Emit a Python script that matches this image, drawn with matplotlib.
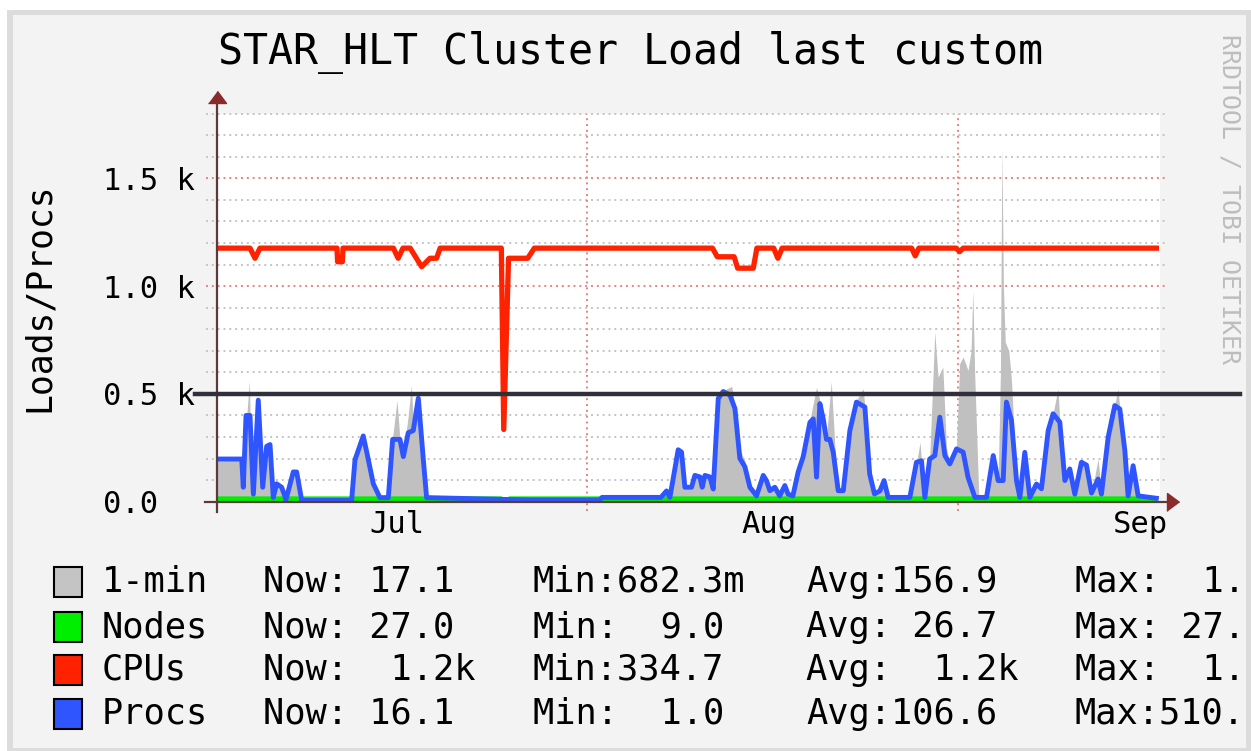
import matplotlib.pyplot as plt
from matplotlib.patches import Rectangle
from matplotlib.transforms import blended_transform_factory

plt.rcParams['font.family'] = 'DejaVu Sans Mono'

W, H = 1251, 751

# x axis is days counted from the left edge of the graph (mid June)
month_days = [15, 46, 77]
month_labels = ['Jul', 'Aug', 'Sep']
major_grid_days = [30.8, 61.75]
ytick_vals = [0, 500, 1000, 1500]
ytick_labels = ['0.0', '0.5 k', '1.0 k', '1.5 k']

# 1-min load (gray area)
load = [(0, 200), (2.06, 200), (2.2, 60), (2.45, 380), (2.7, 560), (2.8, 300), (3.03, 40),
        (3.44, 460), (3.81, 60), (4.14, 250), (4.42, 250), (4.69, 20), (4.97, 80), (5.39, 60),
        (5.75, 10), (6.36, 130), (6.64, 130), (7.06, 5), (11.22, 5), (11.5, 200), (12.19, 300),
        (12.47, 240), (13.03, 90), (13.58, 15), (14.28, 15), (14.64, 300), (15.0, 470),
        (15.25, 290), (15.53, 220), (15.94, 400), (16.2, 540), (16.4, 330), (16.78, 480),
        (17.19, 180), (17.47, 10), (26.0, 8), (37.0, 15), (37.47, 45), (37.75, 15),
        (38.44, 240), (38.72, 220), (39.0, 60), (39.55, 60), (39.83, 120), (40.25, 110),
        (40.44, 60), (40.67, 120), (41.08, 110), (41.36, 60), (41.6, 470), (42.2, 515),
        (42.9, 535), (43.3, 400), (43.6, 240), (44.0, 190), (44.42, 60), (44.97, 25),
        (45.53, 120), (45.8, 95), (46.08, 50), (46.5, 65), (46.9, 25), (47.33, 75), (47.6, 30),
        (48.0, 25), (48.44, 140), (48.86, 210), (49.42, 380), (49.97, 530), (50.25, 470),
        (50.53, 400), (50.8, 300), (51.2, 557), (51.5, 260), (51.8, 60), (52.2, 50),
        (52.75, 330), (53.3, 470), (53.86, 524), (54.0, 440), (54.4, 130), (54.8, 35),
        (55.25, 50), (55.6, 100), (55.94, 20), (57.75, 20), (58.3, 180), (58.6, 276),
        (58.72, 190), (59.0, 20), (59.4, 200), (59.83, 787), (60.1, 578), (60.5, 625),
        (60.8, 250), (61.08, 175), (61.64, 260), (61.9, 640), (62.19, 671), (62.6, 609),
        (62.85, 700), (63.0, 981), (63.15, 600), (63.5, 20), (64.14, 20), (64.7, 220),
        (65.11, 100), (65.3, 600), (65.42, 1648), (65.55, 1000), (65.7, 740), (66.0, 700),
        (66.22, 563), (66.5, 250), (66.64, 100), (66.92, 20), (67.33, 230), (67.75, 20),
        (68.3, 80), (68.72, 60), (69.28, 330), (69.69, 410), (70.1, 524), (70.25, 370),
        (70.67, 100), (71.08, 150), (71.5, 35), (72.05, 185), (72.47, 170), (72.89, 40),
        (73.44, 198), (73.72, 35), (74.28, 300), (74.83, 450), (75.1, 524), (75.25, 430),
        (75.67, 240), (75.94, 27), (76.36, 165), (76.78, 27), (78.3, 17)]

# running processes (blue line)
procs = [(0, 198), (2.06, 198), (2.19, 67), (2.42, 400), (2.75, 400), (3.03, 35), (3.44, 471),
         (3.81, 67), (4.14, 257), (4.42, 265), (4.69, 20), (4.97, 83), (5.39, 67), (5.75, 10),
         (6.36, 138), (6.64, 138), (7.06, 6), (11.22, 6), (11.5, 194), (12.19, 305),
         (12.47, 233), (13.03, 83), (13.58, 19), (14.28, 19), (14.64, 289), (15.25, 289),
         (15.53, 209), (15.94, 320), (16.36, 330), (16.78, 480), (17.19, 200), (17.47, 19),
         (26.0, 8), (31.9, 8), (32.1, 20), (37.0, 20), (37.47, 50), (37.75, 20), (38.44, 241),
         (38.72, 230), (39.0, 67), (39.55, 67), (39.83, 122), (40.25, 115), (40.44, 67),
         (40.67, 122), (41.08, 115), (41.36, 59), (41.78, 479), (42.19, 511), (42.75, 495),
         (43.17, 432), (43.58, 201), (44.0, 162), (44.42, 67), (44.97, 27), (45.53, 122),
         (45.8, 98), (46.08, 51), (46.5, 67), (46.9, 27), (47.33, 75), (47.6, 35), (48.0, 27),
         (48.44, 138), (48.86, 209), (49.42, 368), (49.7, 384), (49.97, 114), (50.25, 455),
         (50.53, 384), (50.8, 289), (51.08, 289), (51.36, 230), (51.78, 51), (52.2, 51),
         (52.75, 330), (53.3, 462), (54.0, 439), (54.4, 129), (54.8, 36), (55.25, 50),
         (55.6, 98), (55.94, 20), (57.75, 20), (58.3, 183), (58.72, 190), (59.0, 20),
         (59.4, 198), (59.83, 214), (60.25, 392), (60.67, 214), (61.08, 175), (61.64, 245),
         (62.19, 230), (62.6, 113), (63.17, 20), (64.14, 20), (64.7, 214), (65.11, 98),
         (65.53, 98), (65.8, 462), (66.22, 377), (66.64, 98), (66.92, 20), (67.33, 229),
         (67.75, 20), (68.3, 82), (68.72, 60), (69.28, 330), (69.69, 408), (70.25, 369),
         (70.67, 98), (71.08, 152), (71.5, 35), (72.05, 183), (72.47, 170), (72.89, 40),
         (73.44, 105), (73.72, 35), (74.28, 299), (74.83, 446), (75.25, 430), (75.67, 237),
         (75.94, 27), (76.36, 167), (76.78, 27), (78.3, 16)]

# CPUs (red line)
cpus = [(0, 1176), (2.75, 1176), (3.17, 1129), (3.58, 1176), (10.0, 1176), (10.05, 1113),
        (10.45, 1113), (10.5, 1176), (14.7, 1176), (15.1, 1129), (15.5, 1176), (16.1, 1176),
        (17.06, 1090), (17.75, 1129), (18.3, 1129), (18.6, 1176), (23.7, 1176), (23.9, 335),
        (24.3, 1129), (25.9, 1129), (26.45, 1176), (41.3, 1176), (41.7, 1136), (43.1, 1136),
        (43.4, 1083), (44.7, 1083), (45.0, 1176), (46.4, 1176), (46.75, 1129), (47.1, 1176),
        (57.9, 1176), (58.2, 1140), (58.5, 1176), (61.6, 1176), (61.9, 1160), (62.2, 1176),
        (78.3, 1176)]

# Nodes (green)
nodes = [(0, 27), (23.7, 27), (23.9, 9), (24.3, 27), (78.3, 27)]

legend_names = ['1-min', 'Nodes', 'CPUs', 'Procs']
legend_colors = ['#c4c4c4', '#00ee00', '#ff2200', '#2f55ff']
now_col = ['Now: 17.1', 'Now: 27.0', 'Now:  1.2k', 'Now: 16.1']
min_col = ['Min:682.3m', 'Min:  9.0', 'Min:334.7', 'Min:  1.0']
avg_col = ['Avg:156.9', 'Avg: 26.7', 'Avg:  1.2k', 'Avg:106.6']
max_col = ['Max:  1.', 'Max: 27.', 'Max:  1.', 'Max:510.']

load_days, load_vals = zip(*load)
procs_days, procs_vals = zip(*procs)
cpus_days, cpus_vals = zip(*cpus)
nodes_days, nodes_vals = zip(*nodes)


def fx(px):
    return px / W


def fy(py):
    return 1 - py / H


fig = plt.figure(figsize=(W / 100, H / 100), dpi=100, facecolor='white')

# rrdtool style frame, kept behind the axes
fig.add_artist(Rectangle((fx(7), fy(751)), fx(1251) - fx(7), fy(10) - fy(751),
                         transform=fig.transFigure, facecolor='#dcdcdc', edgecolor='none',
                         zorder=-10))
fig.add_artist(Rectangle((fx(13), fy(748)), fx(1246) - fx(13), fy(15) - fy(748),
                         transform=fig.transFigure, facecolor='#f3f3f3', edgecolor='none',
                         zorder=-9))

ax = fig.add_axes([fx(217), fy(501.7), fx(1160) - fx(217), fy(113.6) - fy(501.7)])
ax.set_facecolor('white')
ax.set_xlim(0, 78.6)
ax.set_ylim(0, 1800)
for s in ax.spines.values():
    s.set_visible(False)

hy = blended_transform_factory(ax.transAxes, ax.transData)
vx = blended_transform_factory(ax.transData, ax.transAxes)

# grid
for v in range(100, 1801, 100):
    if v % 500 == 0:
        ax.plot([-0.012, 1.008], [v, v], transform=hy, color='#ee8080', lw=1.4,
                ls=(0, (1, 2)), clip_on=False, zorder=0.5)
    else:
        ax.plot([-0.012, 1.008], [v, v], transform=hy, color='#c4c4c4', lw=1.4,
                ls=(0, (1, 2)), clip_on=False, zorder=0.5)
for d in major_grid_days:
    ax.plot([d, d], [-0.025, 1.0], transform=vx, color='#ee8080', lw=1.4,
            ls=(0, (1, 2)), clip_on=False, zorder=0.5)

# data
ax.fill_between(load_days, 0, load_vals, color='#c0c0c0', lw=0, zorder=1)
ax.fill_between(nodes_days, 0, nodes_vals, color='#00ee00', lw=0, zorder=2)
ax.plot(cpus_days, cpus_vals, color='#ff2200', lw=3.8, zorder=3)
ax.plot(procs_days, procs_vals, color='#2f55ff', lw=3.5, zorder=4)

# axes with arrows
ax.plot([0, 0], [-0.027, 1.027], transform=ax.transAxes, color='#5a3a3a', lw=1.6,
        clip_on=False, zorder=5)
ax.plot([-0.0127, 1.0074], [0, 0], transform=ax.transAxes, color='#5a3a3a', lw=1.6,
        clip_on=False, zorder=5)
ax.plot([0], [1.0273], transform=ax.transAxes, marker=[(-1, 0), (1, 0), (0, 1.35)],
        ms=17.5, color='#8b2a2a', clip_on=False, zorder=5)
ax.plot([1.0074], [0], transform=ax.transAxes, marker=[(0, -1), (0, 1), (1.35, 0)],
        ms=17.5, color='#8b2a2a', clip_on=False, zorder=5)

# dark rule at 0.5 k
ax.plot([-0.0233, 1.0848], [500, 500], transform=hy, color='#30303a', lw=3.2,
        clip_on=False, zorder=10)

ax.set_yticks(ytick_vals, ytick_labels, fontsize=22)
ax.tick_params(axis='y', length=0, pad=82)
for lbl in ax.get_yticklabels():
    lbl.set_horizontalalignment('left')
ax.set_xticks(month_days, month_labels, fontsize=22)
ax.tick_params(axis='x', length=0, pad=6)

fig.text(fx(630), fy(53), 'STAR_HLT Cluster Load last custom', ha='center', va='center',
         fontsize=30)
fig.text(fx(39), fy(297), 'Loads/Procs', rotation=90, ha='center', va='center', fontsize=25)
fig.text(fx(1230), fy(199), 'RRDTOOL / TOBI OETIKER', rotation=270, ha='center',
         va='center', fontsize=18, color='#bdbdbd')

# legend
row_y = [582, 627, 670, 714]
for i, name in enumerate(legend_names):
    y = row_y[i]
    fig.add_artist(Rectangle((fx(54), fy(y + 15)), fx(82) - fx(54), fy(y - 15) - fy(y + 15),
                             transform=fig.transFigure, facecolor=legend_colors[i],
                             edgecolor='black', lw=1.5))
    fig.text(fx(102), fy(y), name, ha='left', va='center', fontsize=25.5)
    fig.text(fx(263), fy(y), now_col[i], ha='left', va='center', fontsize=25.5)
    fig.text(fx(533), fy(y), min_col[i], ha='left', va='center', fontsize=25.5)
    fig.text(fx(806), fy(y), avg_col[i], ha='left', va='center', fontsize=25.5)
    fig.text(fx(1075), fy(y), max_col[i], ha='left', va='center', fontsize=25.5)

fig.savefig('out.png', dpi=100, facecolor='white')
